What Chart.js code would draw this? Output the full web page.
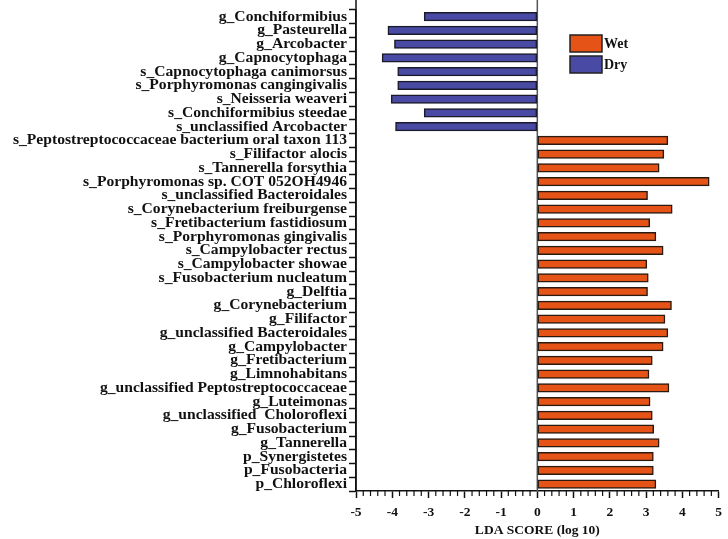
<!DOCTYPE html>
<html>
<head>
<meta charset="utf-8">
<script src="https://cdn.jsdelivr.net/npm/chart.js@4"></script>
<style>
  html, body { margin: 0; padding: 0; background: #fff; }
  #wrap { width: 728px; height: 539px; }
</style>
</head>
<body>
<div id="wrap"><canvas id="myChart" width="728" height="539"></canvas></div>
<script>
const dryLabels = [
    "g_Conchiformibius", "g_Pasteurella", "g_Arcobacter", "g_Capnocytophaga",
    "s_Capnocytophaga canimorsus", "s_Porphyromonas cangingivalis", "s_Neisseria weaveri",
    "s_Conchiformibius steedae", "s_unclassified Arcobacter"
]
const dryScores = [-3.12, -4.12, -3.94, -4.28, -3.85, -3.85, -4.03, -3.12, -3.91]

const wetLabels = [
    "s_Peptostreptococcaceae bacterium oral taxon 113", "s_Filifactor alocis", "s_Tannerella forsythia",
    "s_Porphyromonas sp. COT 052OH4946", "s_unclassified Bacteroidales", "s_Corynebacterium freiburgense",
    "s_Fretibacterium fastidiosum", "s_Porphyromonas gingivalis", "s_Campylobacter rectus",
    "s_Campylobacter showae", "s_Fusobacterium nucleatum", "g_Delftia", "g_Corynebacterium",
    "g_Filifactor", "g_unclassified Bacteroidales", "g_Campylobacter", "g_Fretibacterium",
    "g_Limnohabitans", "g_unclassified Peptostreptococcaceae", "g_Luteimonas",
    "g_unclassified  Choloroflexi", "g_Fusobacterium", "g_Tannerella", "p_Synergistetes",
    "p_Fusobacteria", "p_Chloroflexi"
]
const wetScores = [3.60, 3.49, 3.36, 4.74, 3.04, 3.72, 3.10, 3.27, 3.47, 3.02, 3.06, 3.04, 3.70,
    3.52, 3.60, 3.47, 3.17, 3.08, 3.63, 3.11, 3.17, 3.21, 3.36, 3.20, 3.20, 3.27]

const xTicks = [-5, -4, -3, -2, -1, 0, 1, 2, 3, 4, 5]

const categories = dryLabels.concat(wetLabels)
const dryData = dryScores.concat(wetLabels.map(() => null))
const wetData = dryLabels.map(() => null).concat(wetScores)

const serif = "'Liberation Serif', 'Times New Roman', serif"

// axis extensions, zero line, minor ticks and legend boxes
const extras = {
    id: 'extras',
    beforeDatasetsDraw(chart) {
        const ctx = chart.ctx
        const x = chart.scales.x
        const area = chart.chartArea
        ctx.save()
        ctx.strokeStyle = '#555'
        ctx.lineWidth = 1.5
        const x0 = x.getPixelForValue(0)
        ctx.beginPath()
        ctx.moveTo(x0, 0)
        ctx.lineTo(x0, area.bottom)
        ctx.stroke()
        ctx.restore()
    },
    afterDraw(chart) {
        const ctx = chart.ctx
        const x = chart.scales.x
        const area = chart.chartArea
        ctx.save()
        ctx.strokeStyle = '#111'
        ctx.lineWidth = 1.5
        // y axis line up to the top edge
        ctx.beginPath()
        ctx.moveTo(area.left, 0)
        ctx.lineTo(area.left, area.bottom)
        ctx.stroke()
        // minor ticks every 0.2
        ctx.lineWidth = 1.2
        for (let i = 0; i < xTicks.length - 1; i++) {
            for (let k = 1; k < 5; k++) {
                const px = x.getPixelForValue(xTicks[i] + k * 0.2)
                ctx.beginPath()
                ctx.moveTo(px, area.bottom)
                ctx.lineTo(px, area.bottom + 5)
                ctx.stroke()
            }
        }
        // legend
        const items = [chart.data.datasets[0], chart.data.datasets[1]]
        let ly = 35
        ctx.font = 'bold 14px ' + serif
        ctx.textBaseline = 'middle'
        for (const ds of items) {
            ctx.fillStyle = ds.backgroundColor
            ctx.fillRect(570, ly, 32, 17)
            ctx.strokeStyle = '#222'
            ctx.lineWidth = 1.5
            ctx.strokeRect(570, ly, 32, 17)
            ctx.fillStyle = '#111'
            ctx.fillText(ds.label, 604, ly + 9)
            ly += 21
        }
        ctx.restore()
    }
}

const chartCtx = document.getElementById('myChart')
new Chart(chartCtx, {
    type: 'bar',
    data: {
        labels: categories,
        datasets: [{
            label: 'Wet',
            data: wetData,
            backgroundColor: '#E65316',
            borderColor: '#2a1a10',
            borderWidth: 1.5,
            borderSkipped: false,
            barThickness: 8.5,
            grouped: false
        }, {
            label: 'Dry',
            data: dryData,
            backgroundColor: '#484AA3',
            borderColor: '#1a1a2a',
            borderWidth: 1.5,
            borderSkipped: false,
            barThickness: 8.5,
            grouped: false
        }]
    },
    options: {
        indexAxis: 'y',
        responsive: false,
        animation: false,
        layout: { padding: { top: 5, right: 5, left: 0, bottom: 0 } },
        plugins: {
            legend: { display: false },
            tooltip: { enabled: false }
        },
        scales: {
            x: {
                min: -5,
                max: 5,
                afterFit: (s) => { s.height = 48 },
                afterBuildTicks: (s) => { s.ticks = xTicks.map(v => ({ value: v })) },
                grid: {
                    drawOnChartArea: false,
                    tickLength: 7,
                    tickColor: '#111',
                    tickWidth: 1.5
                },
                border: { color: '#111', width: 1.5 },
                ticks: {
                    color: '#111',
                    padding: 6,
                    font: { family: serif, size: 13.5, weight: 'bold' }
                },
                title: {
                    display: true,
                    text: 'LDA SCORE (log 10)',
                    color: '#111',
                    padding: { top: 2, bottom: 0 },
                    font: { family: serif, size: 13.5, weight: 'bold' }
                }
            },
            y: {
                afterFit: (s) => { s.width = 356 },
                grid: {
                    drawOnChartArea: false,
                    tickLength: 7,
                    tickColor: '#111',
                    tickWidth: 1.5
                },
                border: { color: '#111', width: 1.5 },
                ticks: {
                    autoSkip: false,
                    color: '#111',
                    padding: 2,
                    font: { family: serif, size: 15.6, weight: 'bold', lineHeight: 1 }
                }
            }
        }
    },
    plugins: [extras]
})
</script>
</body>
</html>
